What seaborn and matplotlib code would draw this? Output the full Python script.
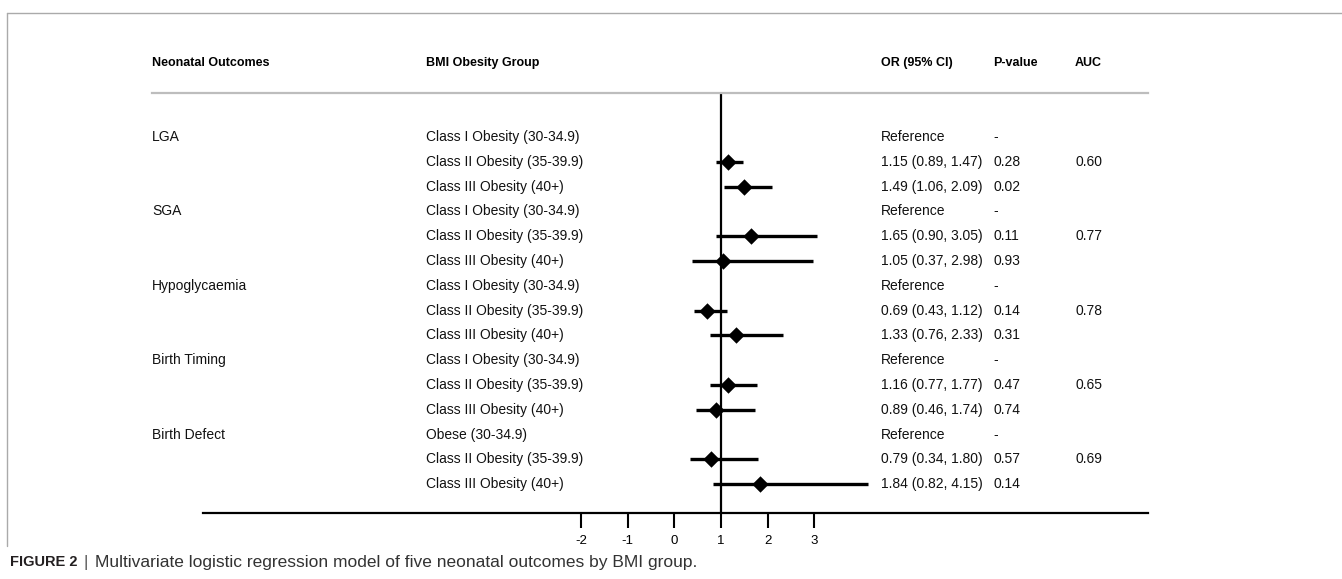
import numpy as np
import pandas as pd
import matplotlib
matplotlib.use("Agg")
import matplotlib.pyplot as plt
import matplotlib.transforms as mtransforms
import seaborn as sns

sns.set_theme(style="white")
plt.rcParams['font.family'] = ['Liberation Sans', 'DejaVu Sans']

# --- Data ---
outcomes = ["LGA", "SGA", "Hypoglycaemia", "Birth Timing", "Birth Defect"]
groups = [
    "Class I Obesity (30-34.9)", "Class II Obesity (35-39.9)", "Class III Obesity (40+)",
    "Class I Obesity (30-34.9)", "Class II Obesity (35-39.9)", "Class III Obesity (40+)",
    "Class I Obesity (30-34.9)", "Class II Obesity (35-39.9)", "Class III Obesity (40+)",
    "Class I Obesity (30-34.9)", "Class II Obesity (35-39.9)", "Class III Obesity (40+)",
    "Obese (30-34.9)", "Class II Obesity (35-39.9)", "Class III Obesity (40+)",
]
odds = [np.nan, 1.15, 1.49, np.nan, 1.65, 1.05, np.nan, 0.69, 1.33,
        np.nan, 1.16, 0.89, np.nan, 0.79, 1.84]
ci_low = [np.nan, 0.89, 1.06, np.nan, 0.90, 0.37, np.nan, 0.43, 0.76,
          np.nan, 0.77, 0.46, np.nan, 0.34, 0.82]
ci_high = [np.nan, 1.47, 2.09, np.nan, 3.05, 2.98, np.nan, 1.12, 2.33,
           np.nan, 1.77, 1.74, np.nan, 1.80, 4.15]
or_text = ["Reference", "1.15 (0.89, 1.47)", "1.49 (1.06, 2.09)",
           "Reference", "1.65 (0.90, 3.05)", "1.05 (0.37, 2.98)",
           "Reference", "0.69 (0.43, 1.12)", "1.33 (0.76, 2.33)",
           "Reference", "1.16 (0.77, 1.77)", "0.89 (0.46, 1.74)",
           "Reference", "0.79 (0.34, 1.80)", "1.84 (0.82, 4.15)"]
p_text = ["-", "0.28", "0.02", "-", "0.11", "0.93", "-", "0.14", "0.31",
          "-", "0.47", "0.74", "-", "0.57", "0.14"]
auc_text = ["", "0.60", "", "", "0.77", "", "", "0.78", "",
            "", "0.65", "", "", "0.69", ""]
headers = ["Neonatal Outcomes", "BMI Obesity Group", "OR (95% CI)", "P-value", "AUC"]
xticks = [-2, -1, 0, 1, 2, 3]

df = pd.DataFrame({"row": np.arange(len(groups)), "odds": odds,
                   "low": ci_low, "high": ci_high})

# --- Layout in pixels ---
W, H = 1342, 579
fig = plt.figure(figsize=(W / 100, H / 100), dpi=100)
fx = lambda px: px / W
fy = lambda py: 1 - py / H

ax_l, ax_r, ax_t, ax_b = 152, 1148, 93, 513
row0, row_step = 137, 24.8
x_one, unit = 721, 46.6
ax = fig.add_axes([fx(ax_l), fy(ax_b), fx(ax_r - ax_l), (ax_b - ax_t) / H])

ax.set_xlim(1 - (x_one - ax_l) / unit, 1 + (ax_r - x_one) / unit)
n = len(groups)
ax.set_ylim((n - 1) + (ax_b - (row0 + row_step * (n - 1))) / row_step,
            -(row0 - ax_t) / row_step)

# confidence intervals and point estimates
ax.hlines(df["row"], df["low"], df["high"], color="black", lw=2.4, zorder=2)
sns.scatterplot(data=df, x="odds", y="row", marker="D", s=70, color="black",
                edgecolor="black", linewidth=0, ax=ax, zorder=3, legend=False)
ax.axvline(1, color="black", lw=1.6, zorder=1)

# spines
for s in ["left", "right"]:
    ax.spines[s].set_visible(False)
ax.spines["top"].set_color("#bdbdbd")
ax.spines["top"].set_linewidth(1.6)
ax.spines["bottom"].set_color("black")
ax.spines["bottom"].set_linewidth(1.6)
ax.spines["bottom"].set_bounds(1 - (x_one - 203) / unit, ax.get_xlim()[1])
ax.set_yticks([])
ax.set_xticks(xticks)
ax.set_xticklabels([str(t) for t in xticks], fontsize=9.5)
ax.tick_params(axis="x", direction="out", length=11, width=1.5, pad=5,
               colors="black", bottom=True)
ax.set_xlabel("")
ax.set_ylabel("")

# table text
fs = 10
col_x = [152, 426, 881, 993, 1075]
trans = mtransforms.blended_transform_factory(fig.transFigure, ax.transData)
for i in range(n):
    if i % 3 == 0:
        ax.text(fx(col_x[0]), i, outcomes[i // 3], transform=trans,
                va="center", ha="left", fontsize=fs, color="#111111")
    ax.text(fx(col_x[1]), i, groups[i], transform=trans, va="center",
            ha="left", fontsize=fs, color="#111111")
    ax.text(fx(col_x[2]), i, or_text[i], transform=trans, va="center",
            ha="left", fontsize=fs, color="#111111")
    ax.text(fx(col_x[3]), i, p_text[i], transform=trans, va="center",
            ha="left", fontsize=fs, color="#111111")
    if auc_text[i]:
        ax.text(fx(col_x[4]), i, auc_text[i], transform=trans, va="center",
                ha="left", fontsize=fs, color="#111111")

for cx, h in zip(col_x, headers):
    fig.text(fx(cx), fy(63), h, fontsize=9, fontweight="bold",
             va="center", ha="left", color="black")

# frame lines
fig.add_artist(plt.Line2D([fx(7), 1], [fy(13), fy(13)], color="#aaaaaa", lw=1))
fig.add_artist(plt.Line2D([fx(7), fx(7)], [fy(13), fy(546)], color="#aaaaaa", lw=1))

# caption
cap = fig.text(fx(10), fy(562), "FIGURE 2", fontsize=10.5, fontweight="bold",
               va="center", ha="left", color="#231f20")
fig.canvas.draw()
bb = cap.get_window_extent()
fig.text(bb.x1 / W + fx(6), fy(562), "|", fontsize=12, va="center", ha="left",
         color="#555555")
fig.text(bb.x1 / W + fx(17), fy(562),
         "Multivariate logistic regression model of five neonatal outcomes by BMI group.",
         fontsize=12.5, va="center", ha="left", color="#333333")

fig.savefig("out.png", dpi=100)
